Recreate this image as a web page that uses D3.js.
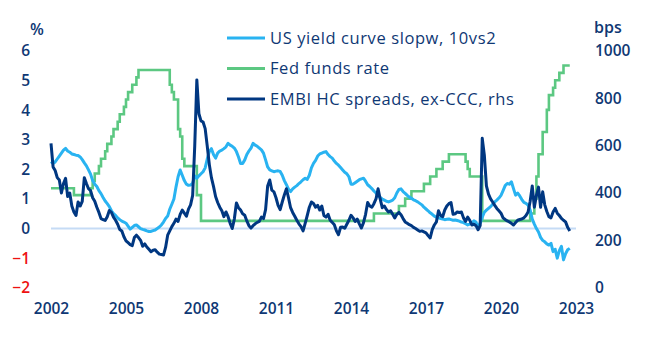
<!DOCTYPE html>
<html>
<head>
<meta charset="utf-8">
<script src="https://cdn.jsdelivr.net/npm/d3@7/dist/d3.min.js"></script>
<style>
  html, body { margin: 0; padding: 0; background: #ffffff; }
  svg { display: block; font-family: "Open Sans", Lato, sans-serif; }
</style>
</head>
<body>
<svg id="chart" width="652" height="346"></svg>
<script>
// ---------------- DATA ----------------
const startYear = 2002;               // first monthly observation (as labelled on the axis)
const xTicks = [2002, 2005, 2008, 2011, 2014, 2017, 2020, 2023];
const leftTicks = [-2, -1, 0, 1, 2, 3, 4, 5, 6];
const rightTicks = [0, 200, 400, 600, 800, 1000];

const seriesNames = ["US yield curve slopw, 10vs2", "Fed funds rate", "EMBI HC spreads, ex-CCC, rhs"];

// US yield curve slope 10y-2y, % (monthly, from 2002-01)
const yieldCurve = [
 2.26,2.2,2.25,2.35,2.45,2.55,2.65,2.71,2.62,2.58,2.52,2.5,
 2.48,2.47,2.42,2.33,2.22,2.12,1.98,1.84,1.62,1.5,1.42,1.28,
 1.18,1.05,0.93,0.84,0.74,0.6,0.5,0.44,0.36,0.3,0.25,0.22,
 0.18,0.08,-0.02,0.04,0.1,0.12,0.06,0.0,-0.03,-0.05,-0.08,-0.1,
 -0.1,-0.07,-0.05,0.0,0.05,0.12,0.22,0.34,0.42,0.65,0.82,1.0,
 1.4,1.75,1.98,1.8,1.62,1.5,1.46,1.47,1.53,1.78,1.7,1.78,
 1.85,1.92,2.05,2.35,2.6,2.7,2.5,2.38,2.55,2.62,2.65,2.7,
 2.76,2.88,2.82,2.78,2.72,2.6,2.42,2.2,2.2,2.32,2.5,2.62,
 2.72,2.88,2.82,2.78,2.72,2.66,2.55,2.32,2.08,1.98,1.95,1.92,
 1.94,1.95,1.93,1.8,1.62,1.48,1.33,1.25,1.34,1.4,1.45,1.52,
 1.58,1.65,1.7,1.66,1.8,2.05,2.2,2.3,2.45,2.52,2.55,2.58,
 2.6,2.5,2.43,2.38,2.28,2.2,2.14,2.06,1.98,1.9,1.85,1.75,
 1.5,1.5,1.55,1.6,1.65,1.68,1.7,1.6,1.48,1.42,1.35,1.27,
 1.2,1.1,1.05,1.0,0.96,0.92,0.9,0.93,0.96,1.04,1.2,1.32,
 1.34,1.25,1.19,1.12,1.06,1.02,0.97,0.94,0.9,0.85,0.8,0.72,
 0.66,0.6,0.53,0.48,0.42,0.38,0.36,0.34,0.32,0.3,0.31,0.32,
 0.3,0.28,0.29,0.27,0.25,0.22,0.2,0.16,0.12,0.15,0.2,0.26,
 0.22,0.02,0.18,0.38,0.55,0.62,0.68,0.74,0.82,0.9,0.96,1.03,
 1.12,1.28,1.45,1.52,1.5,1.58,1.35,1.13,1.2,1.1,0.98,0.88,
 0.85,0.79,0.62,0.32,0.15,0.0,-0.12,-0.3,-0.4,-0.45,-0.52,-0.56,
 -0.5,-0.78,-0.7,-1.0,-0.75,-0.6,-1.06,-0.85,-0.72,-0.67
];

// EMBI HC spreads ex-CCC, bps (monthly, from 2002-01), right axis
const embiSpreads = [
 610,510,495,465,455,400,440,462,385,400,345,320,
 305,362,345,365,465,440,418,410,380,365,340,318,
 292,288,284,300,326,318,298,285,268,246,240,215,
 198,190,182,178,212,222,212,200,175,185,172,162,
 152,158,160,150,142,140,138,170,222,240,258,272,
 290,280,310,328,315,302,332,350,390,600,878,735,
 705,700,672,598,520,465,428,385,360,340,325,300,
 320,300,272,250,290,358,338,328,312,306,282,262,
 252,262,270,276,280,298,292,330,430,455,412,405,
 380,348,330,362,392,418,380,338,318,302,285,270,
 258,240,272,305,340,362,356,340,348,328,345,305,
 298,310,285,276,266,240,224,255,256,251,268,285,
 306,295,280,290,270,252,275,310,360,345,340,355,
 375,418,375,338,345,330,320,325,310,295,310,318,
 308,292,278,272,266,262,255,250,244,238,240,236,
 232,220,210,245,265,278,325,305,300,328,345,355,
 360,310,312,320,318,320,295,280,298,285,265,268,
 262,245,262,631,560,430,395,375,362,348,335,325,
 315,295,288,282,278,272,265,275,285,288,290,295,
 305,320,365,430,340,390,425,340,405,350,322,300,
 295,320,335,315,305,293,285,278,255,240
];

// Fed funds rate, % : month of each change and level from then on
const fedChangeMonths = [
 "2002-01","2002-12","2003-08","2003-09","2003-10","2003-12","2004-01","2004-03","2004-04","2004-06",
 "2004-07","2004-09","2004-10","2004-12","2005-01","2005-02","2005-04","2005-06","2005-07","2006-10",
 "2006-11","2006-12","2007-02","2007-03","2007-04","2007-05","2007-11","2008-01","2014-12","2015-12",
 "2016-03","2016-06","2016-12","2017-03","2017-06","2017-09","2017-12","2018-08","2018-09","2018-10",
 "2019-04","2021-03","2021-05","2021-06","2021-07","2021-09","2021-11","2021-12","2022-02","2022-03",
 "2022-05","2022-07","2022-10"
];
const fedRates = [
 1.36,1.13,1.36,1.61,1.86,2.11,2.36,2.61,2.86,3.11,
 3.36,3.61,3.86,4.11,4.36,4.61,4.86,5.11,5.36,4.86,
 4.61,4.36,3.36,3.11,2.36,2.11,1.13,0.26,0.51,0.76,
 1.01,1.26,1.51,1.76,2.01,2.26,2.51,2.26,2.01,1.76,
 0.26,0.51,1.01,1.76,2.51,3.26,4.01,4.51,4.76,5.01,
 5.26,5.51,5.51
];

// ---------------- CHART ----------------
const colors = { curve: "#29b3f1", fed: "#5cc882", embi: "#003781", text: "#0f3874", neg: "#ee1111", zero: "#c5dbf5" };
const FONT = "'Open Sans', Lato, sans-serif";

const svg = d3.select("#chart");
const x = d3.scaleLinear().domain([2002, 2023]).range([51, 576]);
const yL = d3.scaleLinear().domain([-2, 6]).range([287.7, 51]);
const yR = d3.scaleLinear().domain([0, 1000]).range([287.7, 51]);

const curveData = yieldCurve.map((v, i) => ({ t: startYear + i / 12, v }));
const embiData = embiSpreads.map((v, i) => ({ t: startYear + i / 12, v }));
const fedData = fedChangeMonths.map((s, i) => {
  const [yy, mm] = s.split("-").map(Number);
  return { t: yy + (mm - 1) / 12, v: fedRates[i] };
});

// zero line
svg.append("line")
  .attr("x1", x(2002)).attr("x2", x(2023))
  .attr("y1", yL(0)).attr("y2", yL(0))
  .attr("stroke", colors.zero).attr("stroke-width", 2);

const lineL = d3.line().x(d => x(d.t)).y(d => yL(d.v));
const lineStep = d3.line().x(d => x(d.t)).y(d => yL(d.v)).curve(d3.curveStepAfter);
const lineR = d3.line().x(d => x(d.t)).y(d => yR(d.v));

svg.append("path").datum(fedData).attr("d", lineStep)
  .attr("fill", "none").attr("stroke", colors.fed).attr("stroke-width", 2.6).attr("stroke-linejoin", "miter");
svg.append("path").datum(curveData).attr("d", lineL)
  .attr("fill", "none").attr("stroke", colors.curve).attr("stroke-width", 3).attr("stroke-linejoin", "round");
svg.append("path").datum(embiData).attr("d", lineR)
  .attr("fill", "none").attr("stroke", colors.embi).attr("stroke-width", 3).attr("stroke-linejoin", "round");

// axes
const fontSize = "15.5px";
const styleText = sel => sel.attr("font-size", fontSize).attr("font-family", FONT).attr("font-weight", 600);

const gL = svg.append("g").attr("transform", "translate(30,0)")
  .call(d3.axisLeft(yL).tickValues(leftTicks).tickSize(0).tickPadding(0).tickFormat(d3.format("d")));
gL.select(".domain").remove();
gL.selectAll("text").call(styleText).attr("fill", d => d < 0 ? colors.neg : colors.text);

const gR = svg.append("g").attr("transform", "translate(595,0)")
  .call(d3.axisRight(yR).tickValues(rightTicks).tickSize(0).tickPadding(0).tickFormat(d3.format("d")));
gR.select(".domain").remove();
gR.selectAll("text").call(styleText).attr("fill", colors.text);

const gB = svg.append("g").attr("transform", "translate(0,303)")
  .call(d3.axisBottom(x).tickValues(xTicks).tickSize(0).tickPadding(0).tickFormat(d3.format("d")));
gB.select(".domain").remove();
gB.selectAll("text").call(styleText).attr("fill", colors.text);

// unit labels
svg.append("text").attr("x", 37).attr("y", 35).attr("text-anchor", "middle")
  .attr("font-size", "16px").attr("font-family", FONT).attr("font-weight", 600)
  .attr("fill", colors.text).text("%");
svg.append("text").attr("x", 594).attr("y", 33)
  .attr("font-size", "16px").attr("font-family", FONT).attr("font-weight", 600)
  .attr("fill", colors.text).text("bps");

// legend
const legend = [
  { name: seriesNames[0], color: colors.curve },
  { name: seriesNames[1], color: colors.fed },
  { name: seriesNames[2], color: colors.embi }
];
const lg = svg.append("g");
legend.forEach((d, i) => {
  const yy = 38 + i * 30.5;
  lg.append("line").attr("x1", 227).attr("x2", 265).attr("y1", yy).attr("y2", yy)
    .attr("stroke", d.color).attr("stroke-width", 3);
  lg.append("text").attr("x", 270).attr("y", yy).attr("dy", "0.36em")
    .attr("font-size", "16.5px").attr("letter-spacing", "0.6px")
    .attr("font-family", FONT).attr("font-weight", 500)
    .attr("fill", colors.text).text(d.name);
});
</script>
</body>
</html>
